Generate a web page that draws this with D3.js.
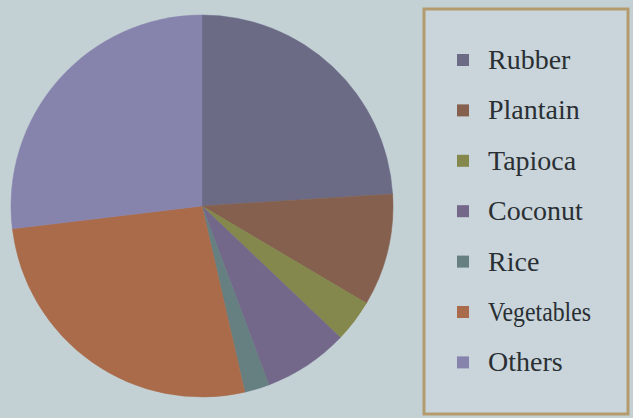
<!DOCTYPE html>
<html>
<head>
<meta charset="utf-8">
<script src="https://cdn.jsdelivr.net/npm/d3@7"></script>
<style>
  html, body { margin: 0; padding: 0; background: #c3d1d5; }
  svg { display: block; }
</style>
</head>
<body>
<svg id="chart" width="633" height="418"></svg>
<script>
const categories = ["Rubber", "Plantain", "Tapioca", "Coconut", "Rice", "Vegetables", "Others"];
const values = [24.0, 9.5, 3.6, 7.2, 2.1, 26.7, 26.9];
const colors = ["#6b6b86", "#85604f", "#85884c", "#73688a", "#667f80", "#aa6b4a", "#8683ad"];

const svg = d3.select("#chart");
const W = 633, H = 418;

svg.append("rect").attr("width", W).attr("height", H).attr("fill", "#c3d1d5");

const cx = 202, cy = 206, r = 191;
const pie = d3.pie().sort(null).value(d => d.v);
const arc = d3.arc().innerRadius(0).outerRadius(r);
const data = categories.map((c, i) => ({ c, v: values[i], col: colors[i] }));

const g = svg.append("g").attr("transform", `translate(${cx},${cy})`);
g.selectAll("path").data(pie(data)).join("path")
  .attr("d", arc)
  .attr("fill", d => d.data.col)
  .attr("stroke", d => d.data.col)
  .attr("stroke-width", 0.5);

// Legend
const lg = svg.append("g");
lg.append("rect")
  .attr("x", 424).attr("y", 9).attr("width", 204).attr("height", 405)
  .attr("fill", "#c9d5da").attr("stroke", "#b39b6e").attr("stroke-width", 3);

const y0 = 60, step = 50.4;
const items = lg.selectAll("g.item").data(data).join("g").attr("class", "item")
  .attr("transform", (d, i) => `translate(0,${y0 + i * step})`);
items.append("rect")
  .attr("x", 457).attr("y", -6).attr("width", 12).attr("height", 12)
  .attr("fill", d => d.col);
items.append("text")
  .attr("x", 488).attr("y", 9)
  .style("font-family", "'Liberation Serif', Tinos, 'Times New Roman', Times, 'Nimbus Roman', FreeSerif, 'DejaVu Serif', serif")
  .attr("font-size", 28)
  .attr("fill", "#2a2f34")
  .each(function(d) {
    if (d.c === "Vegetables") {
      d3.select(this).attr("textLength", 103).attr("lengthAdjust", "spacingAndGlyphs");
    }
  })
  .text(d => d.c);
</script>
</body>
</html>
